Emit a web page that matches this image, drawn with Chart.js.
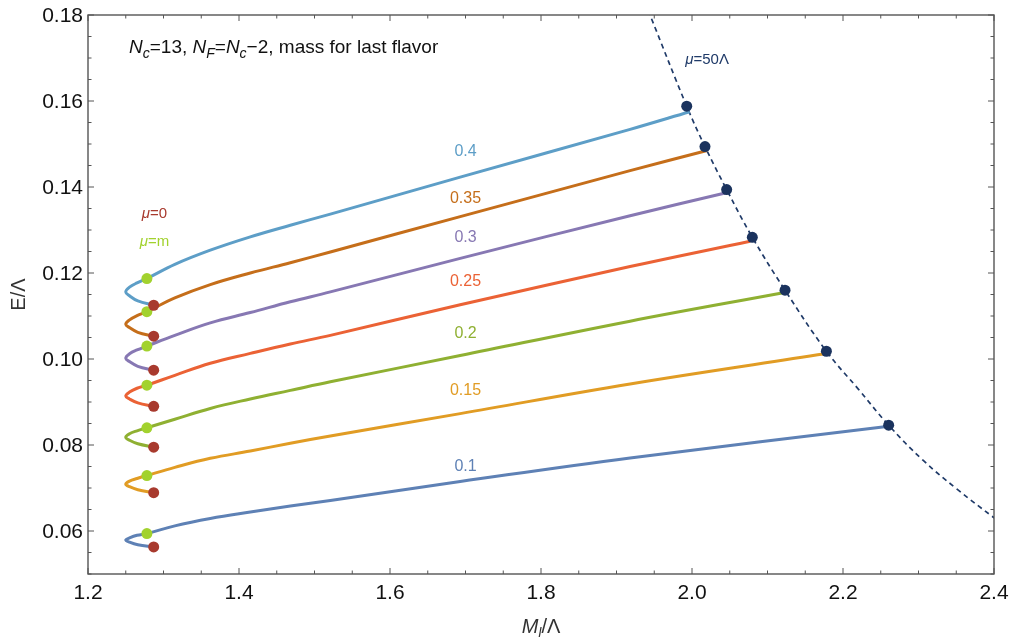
<!DOCTYPE html>
<html>
<head>
<meta charset="UTF-8" />
<title>E vs M</title>
<script src="https://cdn.jsdelivr.net/npm/chart.js@4.4.0/dist/chart.umd.min.js"></script>
<style>
  html,body{margin:0;padding:0;background:#fff;}
</style>
</head>
<body>
<canvas id="chart" width="1012" height="637"></canvas>
<script>
// curve labels (the value next to each curve)
const massLabels=['0.1','0.15','0.2','0.25','0.3','0.35','0.4'];

// x along each curve: mu=0 end, turning back, mu=m point, then the rising branch (last x is per curve)
const branchX=[1.287,1.266,1.255,1.250,1.255,1.265,1.278,1.315,1.362,1.415,1.468,1.521,1.693,1.918];
const endX=[2.258,2.176,2.121,2.077,2.044,2.020,1.997];

const curveY=[
  [0.0563,0.0568,0.0574,0.0579,0.0584,0.0590,0.0594,0.0612,0.0629,0.0644,0.0658,0.0671,0.0715,0.0770,0.0843],
  [0.0689,0.0696,0.0703,0.0709,0.0716,0.0722,0.0729,0.0748,0.0769,0.0786,0.0804,0.0821,0.0873,0.0942,0.1012],
  [0.0795,0.0803,0.0811,0.0818,0.0826,0.0833,0.0840,0.0860,0.0885,0.0907,0.0927,0.0947,0.1008,0.1088,0.1154],
  [0.0890,0.0898,0.0907,0.0914,0.0923,0.0932,0.0939,0.0962,0.0990,0.1013,0.1035,0.1055,0.1126,0.1215,0.1274],
  [0.0974,0.0983,0.0994,0.1002,0.1012,0.1021,0.1030,0.1055,0.1084,0.1108,0.1133,0.1156,0.1234,0.1333,0.1386],
  [0.1053,0.1062,0.1073,0.1081,0.1091,0.1101,0.1110,0.1142,0.1173,0.1200,0.1224,0.1249,0.1331,0.1438,0.1485],
  [0.1125,0.1135,0.1147,0.1156,0.1167,0.1177,0.1187,0.1220,0.1253,0.1284,0.1311,0.1337,0.1423,0.1534,0.1575]
];

// mu=0 and mu=m markers
const muZeroX=[1.287,1.287,1.287,1.287,1.287,1.287,1.287];
const muZeroY=[0.0563,0.0689,0.0795,0.0890,0.0974,0.1053,0.1125];
const muMassX=[1.278,1.278,1.278,1.278,1.278,1.278,1.278];
const muMassY=[0.0594,0.0729,0.0840,0.0939,0.1030,0.1110,0.1187];

// mu=50 Lambda markers and the dashed line through them
const mu50X=[2.2605,2.178,2.1232,2.0799,2.0459,2.0172,1.9930];
const mu50Y=[0.0846,0.1018,0.1160,0.1283,0.1394,0.1494,0.1588];
const dashX=[1.933,1.9444,1.9930,2.0172,2.0459,2.0799,2.1232,2.1780,2.2203,2.2605,2.3063,2.3506,2.3991,2.42];
const dashY=[0.185,0.180,0.1588,0.1494,0.1394,0.1283,0.1160,0.1018,0.0930,0.0846,0.0764,0.0698,0.0632,0.0605];

// where the value labels sit
const labelX=[1.70,1.70,1.70,1.70,1.70,1.70,1.70];
const labelY=[0.0750,0.0926,0.1060,0.1179,0.1283,0.1372,0.1482];

// axis ticks
const xMajor=[1.2,1.4,1.6,1.8,2.0,2.2,2.4];
const yMajor=[0.06,0.08,0.10,0.12,0.14,0.16,0.18];

const colors=['#5e81b5','#e19c24','#8fb032','#eb6235','#8778b3','#c56e1a','#5d9ec7'];
const FONT='"Liberation Sans", Arial, Helvetica, sans-serif';

function ticksFrom(lo,hi,step){
  const out=[];
  for(let k=Math.round(lo/step);k<=Math.round(hi/step);k++) out.push(+(k*step).toFixed(4));
  return out;
}
const isMajor=(v,list)=>list.some(m=>Math.abs(m-v)<1e-6);

const datasets=[];
colors.forEach((c,i)=>{
  const xs=branchX.concat([endX[i]]);
  datasets.push({data:xs.map((x,j)=>({x,y:curveY[i][j]})),showLine:true,borderColor:c,borderWidth:3,
    pointRadius:0,tension:0.4,fill:false,order:2});
});
datasets.push({data:dashX.map((x,j)=>({x,y:dashY[j]})),showLine:true,borderColor:'#1f3a68',borderWidth:1.7,
  borderDash:[5,4],pointRadius:0,tension:0.4,order:3});
datasets.push({data:muZeroX.map((x,j)=>({x,y:muZeroY[j]})),pointRadius:5.5,pointBackgroundColor:'#a83a2e',pointBorderWidth:0,order:0});
datasets.push({data:muMassX.map((x,j)=>({x,y:muMassY[j]})),pointRadius:5.5,pointBackgroundColor:'#a2d22e',pointBorderWidth:0,order:0});
datasets.push({data:mu50X.map((x,j)=>({x,y:mu50Y[j]})),pointRadius:5.5,pointBackgroundColor:'#1b335e',pointBorderWidth:0,order:0});

function drawRich(ctx,parts,x,y,size,color,align){
  const fontFor=p=>(p.it?'italic ':'')+(p.sub?Math.round(size*0.72):size)+'px '+FONT;
  let w=0;
  parts.forEach(p=>{ctx.font=fontFor(p);w+=ctx.measureText(p.t).width;});
  let cx=align==='center'?x-w/2:x;
  ctx.fillStyle=color;
  ctx.textAlign='left';
  ctx.textBaseline='alphabetic';
  parts.forEach(p=>{
    ctx.font=fontFor(p);
    ctx.fillText(p.t,cx,y+(p.sub?size*0.26:0));
    cx+=ctx.measureText(p.t).width;
  });
}

const framePlugin={
  id:'frame',
  afterDraw(chart){
    const {ctx,chartArea:a,scales:{x,y}}=chart;
    ctx.save();
    ctx.strokeStyle='#555';
    ctx.lineWidth=1.4;
    ctx.strokeRect(a.left,a.top,a.right-a.left,a.bottom-a.top);
    ctx.lineWidth=1;
    ctx.fillStyle='#111';
    ctx.font='21px '+FONT;
    x.ticks.forEach(t=>{
      const p=x.getPixelForValue(t.value), major=isMajor(t.value,xMajor), l=major?6:3.5;
      ctx.beginPath();
      ctx.moveTo(p,a.bottom);ctx.lineTo(p,a.bottom-l);
      ctx.moveTo(p,a.top);ctx.lineTo(p,a.top+l);
      ctx.stroke();
      if(major){
        ctx.textAlign='center';ctx.textBaseline='middle';
        ctx.fillText(t.value.toFixed(1),p,a.bottom+19);
      }
    });
    y.ticks.forEach(t=>{
      const p=y.getPixelForValue(t.value), major=isMajor(t.value,yMajor), l=major?6:3.5;
      ctx.beginPath();
      ctx.moveTo(a.left,p);ctx.lineTo(a.left+l,p);
      ctx.moveTo(a.right,p);ctx.lineTo(a.right-l,p);
      ctx.stroke();
      if(major){
        ctx.textAlign='right';ctx.textBaseline='middle';
        ctx.fillText(t.value.toFixed(2),a.left-5,p+1);
      }
    });
    ctx.restore();
  },
  afterDatasetsDraw(chart){
    const {ctx,chartArea:a,scales:{x,y}}=chart;
    ctx.save();
    // curve value labels
    ctx.font='16px '+FONT;
    ctx.textAlign='center';
    ctx.textBaseline='middle';
    massLabels.forEach((s,i)=>{
      ctx.fillStyle=colors[i];
      ctx.fillText(s,x.getPixelForValue(labelX[i]),y.getPixelForValue(labelY[i]));
    });
    drawRich(ctx,[{t:'\u03bc',it:1},{t:'=0'}],x.getPixelForValue(1.288),y.getPixelForValue(0.1340)+5,15,'#a83a2e','center');
    drawRich(ctx,[{t:'\u03bc',it:1},{t:'=m'}],x.getPixelForValue(1.288),y.getPixelForValue(0.1274)+5,15,'#a2d22e','center');
    drawRich(ctx,[{t:'\u03bc',it:1},{t:'=50\u039b'}],x.getPixelForValue(2.020),y.getPixelForValue(0.1697)+5,15,'#1f3a68','center');
    // title inside the frame
    drawRich(ctx,[{t:'N',it:1},{t:'c',it:1,sub:1},{t:'=13, '},{t:'N',it:1},{t:'F',it:1,sub:1},{t:'='},
      {t:'N',it:1},{t:'c',it:1,sub:1},{t:'\u22122, mass for last flavor'}],129,53,19,'#111','left');
    // axis titles
    drawRich(ctx,[{t:'M',it:1},{t:'l',it:1,sub:1},{t:'/\u039b'}],(a.left+a.right)/2,633,20,'#333','center');
    ctx.translate(18,(a.top+a.bottom)/2);
    ctx.rotate(-Math.PI/2);
    drawRich(ctx,[{t:'E/\u039b'}],0,7,20,'#333','center');
    ctx.restore();
  }
};

new Chart(document.getElementById('chart'),{
  type:'scatter',
  data:{datasets},
  options:{
    responsive:false,
    animation:false,
    events:[],
    layout:{padding:{left:0,right:18,top:15,bottom:0}},
    plugins:{legend:{display:false},tooltip:{enabled:false}},
    scales:{
      x:{type:'linear',min:1.2,max:2.4,
        afterBuildTicks:s=>{s.ticks=ticksFrom(1.2,2.4,0.05).map(v=>({value:v}));},
        afterFit:s=>{s.height=63;},
        grid:{display:false},border:{display:false},
        ticks:{display:false}},
      y:{type:'linear',min:0.05,max:0.18,
        afterBuildTicks:s=>{s.ticks=ticksFrom(0.05,0.18,0.005).map(v=>({value:v}));},
        afterFit:s=>{s.width=88;},
        grid:{display:false},border:{display:false},
        ticks:{display:false}}
    }
  },
  plugins:[framePlugin]
});
</script>
</body>
</html>
